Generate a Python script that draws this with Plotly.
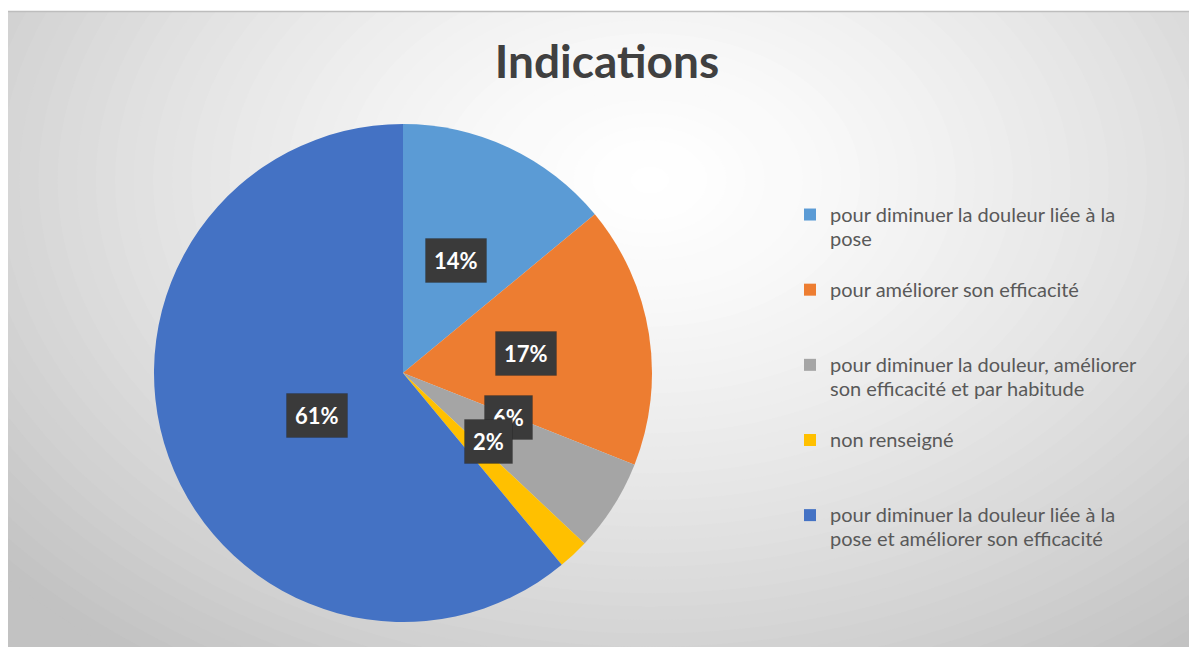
import math
import plotly.graph_objects as go

# ---- data ----
labels = [
    "pour diminuer la douleur liée à la<br>pose",
    "pour améliorer son efficacité<br> ",
    "pour diminuer la douleur, améliorer<br>son efficacité et par habitude",
    "non renseigné<br> ",
    "pour diminuer la douleur liée à la<br>pose et améliorer son efficacité",
]
values = [14, 17, 6, 2, 61]
pct_text = ["14%", "17%", "6%", "2%", "61%"]
colors = ["#5B9BD5", "#ED7D31", "#A5A5A5", "#FFC000", "#4472C4"]

W, H = 1197, 647
OFF = 8  # page body margin


def px(x):
    return (x - OFF) / W


def py(y):
    return 1 - (y - OFF) / H


# pie geometry (screen pixels)
CX, CY, R = 403, 373, 249

shapes = []
shapes.append(dict(type="rect", xref="paper", yref="paper",
                   x0=0, x1=1, y0=0, y1=py(11),
                   fillcolor="rgb(194,194,194)", line=dict(width=0), layer="below"))
GX, GY, RX, RY = 650, 180, 860, 600
N = 45
for i in range(N, 0, -1):
    t = i / N
    c = int(round(255 - 61 * t ** 1.4))
    shapes.append(dict(type="circle", xref="paper", yref="paper",
                       x0=px(GX - RX * t), x1=px(GX + RX * t),
                       y0=py(GY + RY * t), y1=py(GY - RY * t),
                       fillcolor=f"rgb({c},{c},{c})", line=dict(width=0), layer="below"))
shapes.append(dict(type="rect", xref="paper", yref="paper", x0=0, x1=1, y0=py(11), y1=1,
                   fillcolor="white", line=dict(width=0), layer="below"))
shapes.append(dict(type="line", xref="paper", yref="paper", x0=0, x1=1, y0=py(11.5), y1=py(11.5),
                   line=dict(color="#bdbdbd", width=1.5), layer="below"))

legend_labels = [f'<span style="font-size:20px">{l}</span><br> ' for l in labels]

fig = go.Figure()
fig.add_trace(go.Pie(
    labels=legend_labels,
    values=values,
    sort=False,
    direction="clockwise",
    rotation=0,
    marker=dict(colors=colors, line=dict(width=0)),
    textinfo="none",
    hoverinfo="label+percent",
    domain=dict(x=[px(CX - R), px(CX + R)], y=[py(CY + R), py(CY - R)]),
    showlegend=True,
))

# data labels: placed at half radius on mid-angle of each slice
annotations = []
total = sum(values)
cum = 0
order = [0, 1, 2, 4, 3]
positions = []
for v in values:
    mid = (cum + v / 2) / total * 2 * math.pi
    cum += v
    positions.append((CX + 0.5 * R * math.sin(mid), CY - 0.5 * R * math.cos(mid)))
for i in order:
    x, y = positions[i]
    annotations.append(dict(xref="paper", yref="paper", x=px(x), y=py(y),
                            text=f"<b>{pct_text[i]}</b>", showarrow=False,
                            font=dict(family="Lato", size=22, color="white"),
                            bgcolor="#3a3a3a", borderpad=8,
                            bordercolor="rgba(0,0,0,0.15)", borderwidth=1))

fig.update_layout(
    width=W, height=H, autosize=False,
    margin=dict(l=0, r=0, t=0, b=0),
    paper_bgcolor="white",
    plot_bgcolor="white",
    title=dict(text="<b>Indications</b>", x=px(607), xanchor="center", y=py(62), yanchor="middle",
               font=dict(family="Lato", size=46, color="#404040")),
    legend=dict(x=px(790), xanchor="left", y=py(196), yanchor="top",
                font=dict(family="Lato", size=18.5, color="#595959"),
                bgcolor="rgba(0,0,0,0)", valign="top", traceorder="normal"),
    shapes=shapes,
    annotations=annotations,
)

fig.write_html("out.html")
